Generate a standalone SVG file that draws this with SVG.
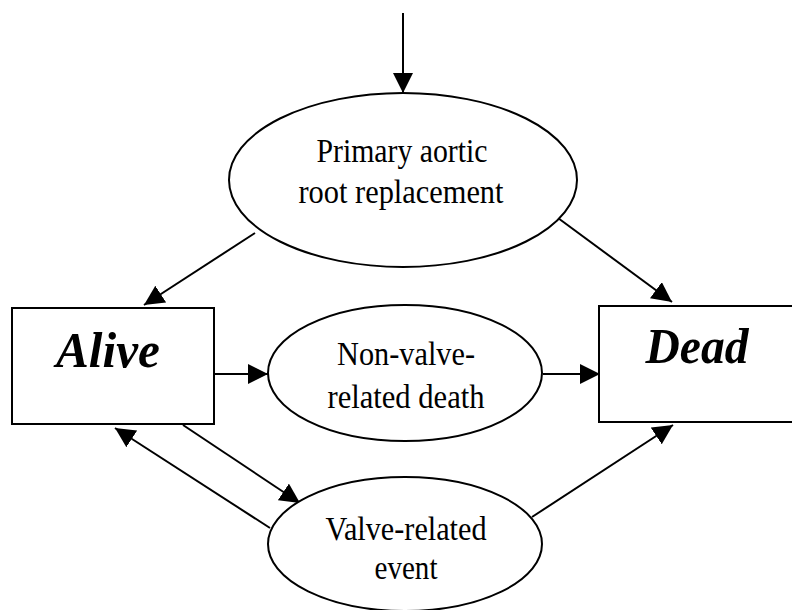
<svg xmlns="http://www.w3.org/2000/svg" width="792" height="610" viewBox="0 0 792 610">
<style>
.shape{fill:#fff;stroke:#000;stroke-width:2}
.lbl{font-family:"Liberation Serif","Times New Roman",serif;font-size:33px;text-anchor:middle;fill:#000}
.big{font-family:"Liberation Serif","Times New Roman",serif;font-size:51px;font-weight:bold;font-style:italic;text-anchor:middle;fill:#000}
.conn line{stroke:#000;stroke-width:2;marker-end:url(#arr)}
</style>
<defs>
<marker id="arr" markerUnits="userSpaceOnUse" markerWidth="20" markerHeight="20" refX="20" refY="10" orient="auto">
<path d="M0,0 L20,10 L0,20 z" fill="#000"/>
</marker>
</defs>
<rect width="792" height="610" fill="#fff"/>
<g class="conn" id="connectors">
<line x1="403" y1="13" x2="403" y2="93"/>
<line x1="255" y1="233" x2="144" y2="305"/>
<line x1="558" y1="218" x2="672" y2="302"/>
<line x1="214" y1="374" x2="268" y2="374"/>
<line x1="543" y1="374" x2="600" y2="374"/>
<line x1="270" y1="528" x2="115" y2="428"/>
<line x1="183" y1="425" x2="300" y2="503"/>
<line x1="532" y1="517" x2="673" y2="425"/>
</g>
<g id="primary">
<ellipse class="shape" cx="403" cy="180" rx="174" ry="87"/>
<text class="lbl" x="402" y="162" textLength="171" lengthAdjust="spacingAndGlyphs">Primary aortic</text>
<text class="lbl" x="401" y="203" textLength="205" lengthAdjust="spacingAndGlyphs">root replacement</text>
</g>
<g id="alive">
<rect class="shape" x="12" y="308" width="202" height="116"/>
<text class="big" x="108" y="367" textLength="104" lengthAdjust="spacingAndGlyphs">Alive</text>
</g>
<g id="dead">
<rect class="shape" x="599" y="306" width="210" height="116"/>
<text class="big" x="697" y="363" textLength="103" lengthAdjust="spacingAndGlyphs">Dead</text>
</g>
<g id="nonvalve">
<ellipse class="shape" cx="405" cy="373" rx="137" ry="68"/>
<text class="lbl" x="406" y="365" textLength="138" lengthAdjust="spacingAndGlyphs">Non-valve-</text>
<text class="lbl" x="406" y="408" textLength="157" lengthAdjust="spacingAndGlyphs">related death</text>
</g>
<g id="valve">
<ellipse class="shape" cx="405" cy="544" rx="137" ry="67"/>
<text class="lbl" x="406" y="540" textLength="161" lengthAdjust="spacingAndGlyphs">Valve-related</text>
<text class="lbl" x="406" y="579" textLength="63" lengthAdjust="spacingAndGlyphs">event</text>
</g>
</svg>
